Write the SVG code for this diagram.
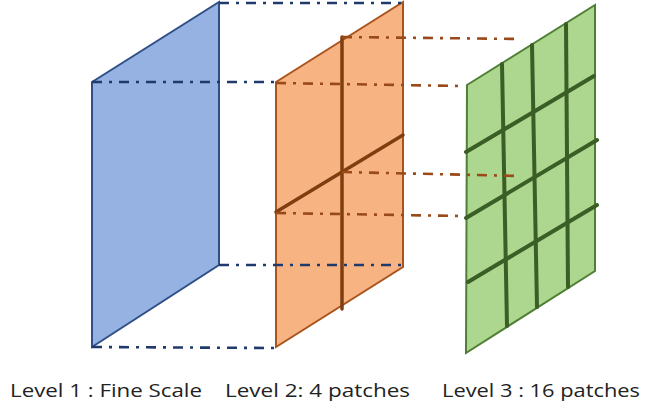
<svg xmlns="http://www.w3.org/2000/svg" width="647" height="406" viewBox="0 0 647 406">
<style>
.bl{fill:#95b2e3;stroke:#2f4f86;stroke-width:2}
.or{fill:#f8b383;stroke:#a9541c;stroke-width:2}
.gr{fill:#add68f;stroke:#4f7f35;stroke-width:2}
.og{stroke:#7f3e10;stroke-width:3.5;fill:none;stroke-linecap:round}
.gg{stroke:#3a5e25;stroke-width:4;fill:none;stroke-linecap:round}
.dbl{stroke:#203a6b;stroke-width:2.6;fill:none;stroke-dasharray:10 7 3 7}
.dbr{stroke:#9a4a18;stroke-width:2.6;fill:none;stroke-dasharray:10 7 3 7}
.t{font-family:"Open Sans","Liberation Sans",sans-serif;font-size:19px;fill:#222}
</style>
<g id="level1">
<polygon class="bl" points="92,82 219,2 219,265 92,347"/>
</g>
<g id="level2">
<polygon class="or" points="276,82 403,2 403,267 276,347"/>
<line class="og" x1="342" y1="37" x2="342" y2="309"/>
<line class="og" x1="276" y1="212" x2="403" y2="135"/>
</g>
<g id="level3">
<polygon class="gr" points="467,85 595,5 595,271 466,353"/>
<line class="gg" x1="502" y1="64" x2="507" y2="326"/>
<line class="gg" x1="532" y1="45" x2="537" y2="307"/>
<line class="gg" x1="566" y1="24" x2="568" y2="287"/>
<line class="gg" x1="466" y1="152" x2="594" y2="76"/>
<line class="gg" x1="466" y1="218" x2="597" y2="140"/>
<line class="gg" x1="468" y1="282" x2="597" y2="205"/>
</g>
<g id="connectors">
<line class="dbl" x1="219" y1="3" x2="403" y2="3"/>
<line class="dbl" x1="92" y1="82" x2="276" y2="82"/>
<line class="dbl" x1="219" y1="265" x2="403" y2="265"/>
<line class="dbl" x1="92" y1="347" x2="276" y2="348"/>
<line class="dbr" x1="342" y1="37" x2="521" y2="39"/>
<line class="dbr" x1="276" y1="83" x2="462" y2="86"/>
<line class="dbr" x1="342" y1="172" x2="521" y2="176"/>
<line class="dbr" x1="276" y1="213" x2="462" y2="216"/>
</g>
<g id="labels">
<text class="t" x="10" y="397" textLength="192" lengthAdjust="spacingAndGlyphs">Level 1 : Fine Scale</text>
<text class="t" x="225" y="397" textLength="185" lengthAdjust="spacingAndGlyphs">Level 2: 4 patches</text>
<text class="t" x="442" y="397" textLength="198" lengthAdjust="spacingAndGlyphs">Level 3 : 16 patches</text>
</g>
</svg>
